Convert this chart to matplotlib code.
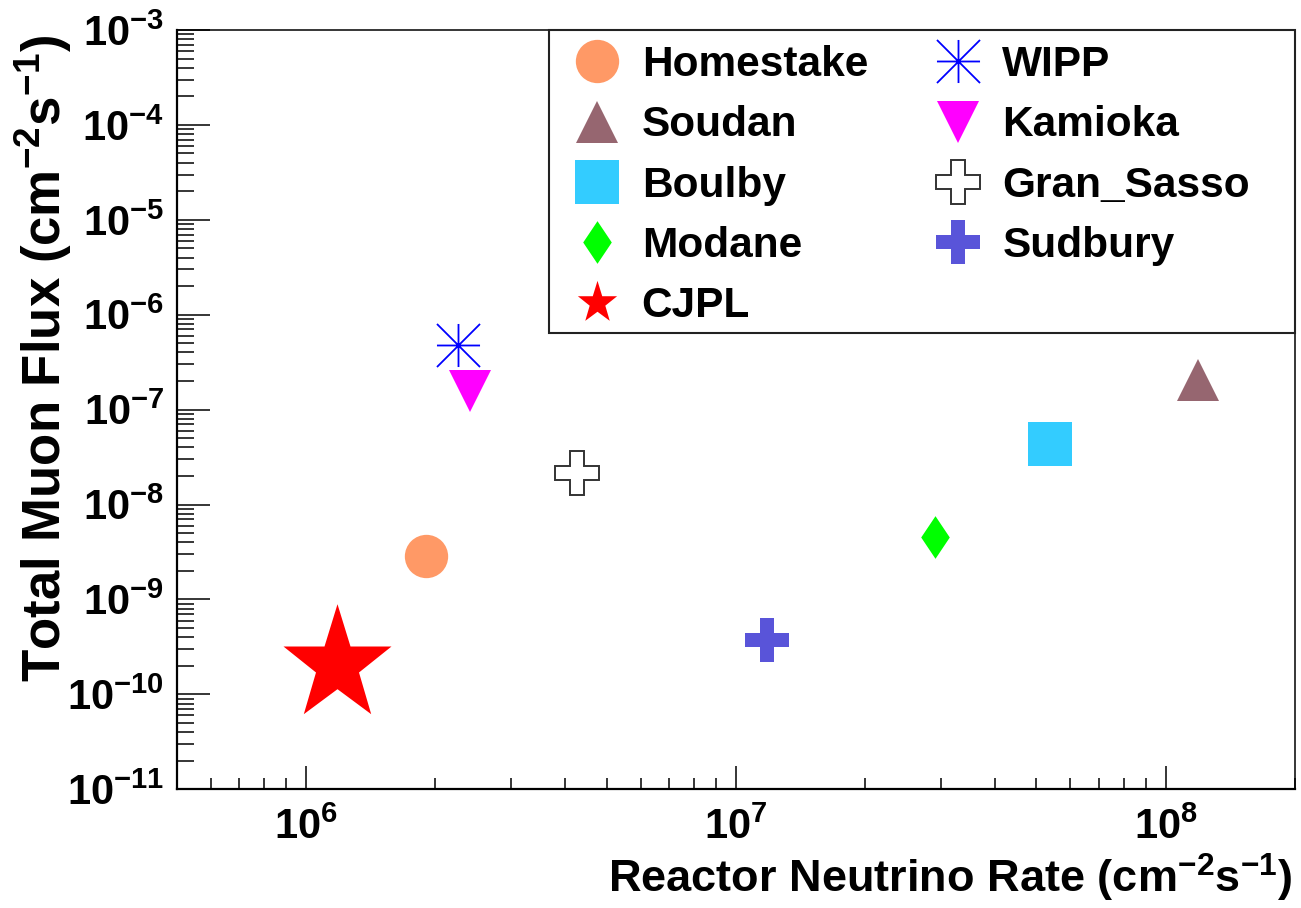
import numpy as np
import matplotlib
matplotlib.use("Agg")
import matplotlib.pyplot as plt
from matplotlib.path import Path
from matplotlib.lines import Line2D
from matplotlib.patches import Rectangle
from matplotlib.ticker import LogLocator, FuncFormatter, NullFormatter

plt.rcParams["font.family"] = ["Liberation Sans", "DejaVu Sans"]
plt.rcParams["font.weight"] = "bold"
plt.rcParams["mathtext.fontset"] = "custom"
plt.rcParams["mathtext.rm"] = "Liberation Sans:bold"
plt.rcParams["mathtext.bf"] = "Liberation Sans:bold"
plt.rcParams["mathtext.it"] = "Liberation Sans:bold"
plt.rcParams["mathtext.default"] = "rm"

# underground labs: reactor neutrino rate vs total muon flux (cm^-2 s^-1)
sites = ["Homestake", "Soudan", "Boulby", "Modane", "CJPL",
         "WIPP", "Kamioka", "Gran_Sasso", "Sudbury"]
nu_rate = [1.90e6, 1.19e8, 5.38e7, 2.91e7, 1.18e6,
           2.26e6, 2.40e6, 4.26e6, 1.18e7]
mu_flux = [2.87e-9, 2.03e-7, 4.37e-8, 4.5e-9, 2.0e-10,
           4.8e-7, 1.58e-7, 2.15e-8, 3.78e-10]

# ROOT-like marker shapes
STAR = Path([(0, 62.3), (13, 20), (54, 20), (21.5, -6), (33.7, -47.7), (0, -22.7),
             (-33.7, -47.7), (-21.5, -6), (-54, 20), (-13, 20), (0, 62.3)])
ASTER = Path([(-1, 0), (1, 0), (0, -1), (0, 1), (-1, -1), (1, 1), (-1, 1), (1, -1)],
             [Path.MOVETO, Path.LINETO] * 4)
DIAMOND = Path([(0, 1), (0.67, 0), (0, -1), (-0.67, 0), (0, 1)])

style = {
    "Homestake":  dict(marker="o", color="#ff9966", ms=31.2, mew=0),
    "Soudan":     dict(marker="^", color="#966670", ms=30.6, mew=0),
    "Boulby":     dict(marker="s", color="#33ccff", ms=31.0, mew=0),
    "Modane":     dict(marker=DIAMOND, color="#00ff00", ms=30.7, mew=0),
    "CJPL":       dict(marker=STAR, color="#ff0000", ms=89.7, mew=0),
    "WIPP":       dict(marker=ASTER, color="#0000ff", ms=31.0, mew=1.3, mfc="none"),
    "Kamioka":    dict(marker="v", color="#ff00ff", ms=30.9, mew=0),
    "Gran_Sasso": dict(marker="P", color="#333333", ms=31.0, mew=1.4, mfc="white"),
    "Sudbury":    dict(marker="P", color="#5954d9", ms=31.9, mew=0),
}

fig = plt.figure(figsize=(13.01, 9.08), dpi=100)
ax = fig.add_axes([0.1358, 0.1307, 0.8598, 0.8363])

handles = []
for name, x, y in zip(sites, nu_rate, mu_flux):
    st = dict(style[name])
    ax.plot([x], [y], linestyle="none", **st)
    if name == "WIPP":
        ax.plot([x], [y], linestyle="none", marker="o", color="#0000ff", ms=3, mew=0)
    if name == "CJPL":
        st["ms"] = 32.6
    handles.append(Line2D([], [], linestyle="none", label=name, **st))

ax.set_xscale("log")
ax.set_yscale("log")
ax.set_xlim(5e5, 2e8)
ax.set_ylim(1e-11, 1e-3)

fmt = FuncFormatter(lambda v, p: r"$10^{%d}$" % round(np.log10(v)))
ax.xaxis.set_major_locator(LogLocator(base=10, numticks=20))
ax.yaxis.set_major_locator(LogLocator(base=10, numticks=20))
ax.xaxis.set_minor_locator(LogLocator(base=10, subs=np.arange(2, 10), numticks=20))
ax.yaxis.set_minor_locator(LogLocator(base=10, subs=np.arange(2, 10), numticks=20))
ax.xaxis.set_major_formatter(fmt)
ax.yaxis.set_major_formatter(fmt)
ax.xaxis.set_minor_formatter(NullFormatter())
ax.yaxis.set_minor_formatter(NullFormatter())

ax.tick_params(axis="both", which="both", direction="in", top=False, right=False,
               width=1.1, colors="black", labelsize=30)
ax.tick_params(axis="y", which="major", length=23.8, pad=9)
ax.tick_params(axis="y", which="minor", length=12)
ax.tick_params(axis="x", which="major", length=16.5, pad=13)
ax.tick_params(axis="x", which="minor", length=8)

for side in ("left", "bottom"):
    ax.spines[side].set_linewidth(1.6)
for side in ("top", "right"):
    ax.spines[side].set_linewidth(1.1)

ax.set_xlabel(r"Reactor Neutrino Rate (cm$^{-2}$s$^{-1}$)", fontsize=32.5,
              fontweight="bold", loc="right")
ax.set_ylabel(r"Total Muon Flux (cm$^{-2}$s$^{-1}$)", fontsize=38,
              fontweight="bold", loc="top")
ax.xaxis.set_label_coords(0.997, -0.082)
ax.yaxis.set_label_coords(-0.092, 0.993)

# legend box drawn separately so the padding can be uneven like the original
ax.add_patch(Rectangle((0.333, 0.601), 0.667, 0.399, transform=ax.transAxes,
                       fill=False, edgecolor="#222222", lw=1.5, zorder=5, clip_on=False))
ax.legend(handles=handles, ncol=2, loc="upper left", bbox_to_anchor=(0.357, 0.980),
          fontsize=30.5, frameon=False, borderpad=0, labelspacing=0.48,
          handlelength=1.0, handletextpad=0.55, columnspacing=1.62, borderaxespad=0)

fig.savefig("out.png", dpi=100)
